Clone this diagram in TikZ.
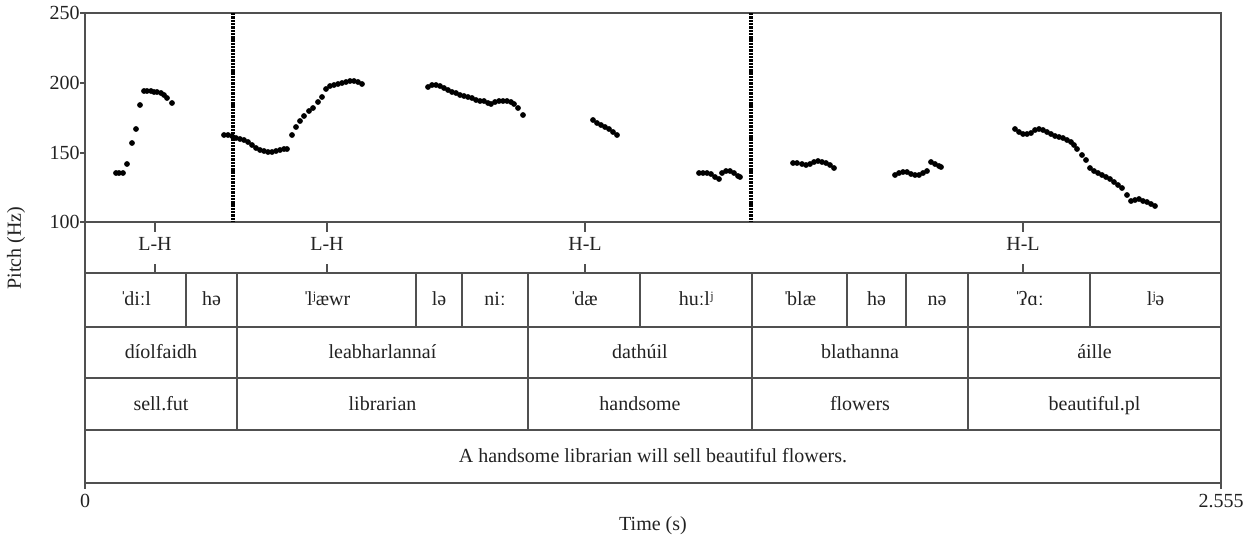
\documentclass[tikz,border=0pt]{standalone}
\usepackage{fontspec}
\setmainfont{Liberation Serif}
\definecolor{ln}{HTML}{505050}
\definecolor{tx}{HTML}{222222}
\newcommand{\st}{ˈ\kern-0.12em}
\begin{document}
\begin{tikzpicture}[x=0.5pt,y=-0.5pt,
  frame/.style={draw=ln,line width=0.8pt},
  grid/.style={draw=ln,line width=0.7pt},
  lbl/.style={text=tx,font=\fontsize{10}{12}\selectfont,inner sep=0pt},
  cell/.style={lbl,anchor=base},
  pt/.style={fill=black},
  bnd/.style={draw=black,line width=2pt,dash pattern=on 1.2pt off 0.45pt}]
\useasboundingbox (0,0) rectangle (1246,538);
% frame
\draw[frame] (85,13) rectangle (1221,483);
\foreach \yy in {222,273,327,378,430} \draw[grid] (85,\yy) -- (1221,\yy);
% y axis
\foreach \yy/\lab in {13/250,83/200,153/150,222/100} {
  \draw[grid] (80,\yy) -- (85,\yy);
  \node[lbl,anchor=east] (y\lab) at (80,\yy) {\lab};
}
\node[lbl,rotate=90] (ylab) at (16,248) {Pitch (Hz)};
% x axis
\draw[grid] (85,483) -- (85,489);
\draw[grid] (1221,483) -- (1221,489);
\node[cell] (x0) at (85,507) {0};
\node[cell] (x1) at (1221,507) {2.555};
\node[cell] (xlab) at (653,530) {Time (s)};
% boundaries in pitch panel
\draw[bnd] (233,13) -- (233,222);
\draw[bnd] (751,13) -- (751,222);
% pitch points
\foreach \px/\py in {116/173,119/173,123/173,127/164,132/143,136/129,140/105,144/91,147/91,151/91,154/92,157/92,161/93,164/95,167/98,172/103,
224/135,228/135,232/136,236/138,240/139,244/140,248/142,252/145,256/148,260/150,264/151,268/152,272/152,276/151,280/150,284/149,287/149,
292/135,296/127,300/121,304/116,309/111,313/108,318/102,322/97,326/89,330/86,334/85,338/84,342/83,346/82,350/81,354/81,358/82,362/84,
428/87,432/85,436/85,440/86,444/88,448/90,452/92,456/93,460/95,464/96,468/97,472/98,476/100,480/101,484/101,488/103,491/104,495/102,499/101,503/101,507/101,511/102,514/104,518/108,523/115,
593/120,597/123,601/125,605/127,609/129,613/132,617/135,
699/173,703/173,707/173,711/174,715/177,719/179,722/173,726/171,730/171,734/173,738/176,740/177,
793/163,797/163,802/164,806/165,810/164,814/162,818/161,822/162,826/163,830/165,834/168,
895/175,899/173,903/172,907/172,911/174,915/175,919/175,923/173,927/171,931/162,935/164,939/166,941/167,
1015/129,1019/132,1023/134,1027/134,1031/133,1035/130,1039/129,1043/130,1047/132,1051/134,1055/136,1059/137,1063/138,1067/140,1071/142,1074/145,1077/149,1082/155,1086/160,1090/168,1094/171,1098/173,1102/175,1106/177,1110/179,1114/182,1118/185,1122/188,1127/195,1131/201,1135/200,1139/199,1143/201,1147/202,1151/204,1155/206}
  \fill[pt] (\px,\py) circle (1.45pt);
% tone tier
\foreach \tx/\tl/\nm in {155/L-H/t1,327/L-H/t2,585/H-L/t3,1023/H-L/t4} {
  \draw[grid] (\tx,222) -- (\tx,232);
  \draw[grid] (\tx,264) -- (\tx,273);
  \node[cell] (\nm) at (\tx,250) {\tl};
}
% syllable tier
\foreach \bx in {186,237,416,462,528,640,752,847,906,968,1090} \draw[grid] (\bx,273) -- (\bx,327);
\node[cell] (s1) at (135.5,305) {\st diːl};
\node[cell] (s2) at (211.5,305) {hə};
\node[cell] (s3) at (326.5,305) {\st lʲæwr};
\node[cell] (s4) at (439,305) {lə};
\node[cell] (s5) at (495,305) {niː};
\node[cell] (s6) at (584,305) {\st dæ};
\node[cell] (s7) at (696,305) {huːlʲ};
\node[cell] (s8) at (799.5,305) {\st blæ};
\node[cell] (s9) at (876.5,305) {hə};
\node[cell] (s10) at (937,305) {nə};
\node[cell] (s11) at (1029,305) {\st ʔɑː};
\node[cell] (s12) at (1155.5,305) {lʲə};
% word and gloss tiers
\foreach \bx in {237,528,752,968} \draw[grid] (\bx,327) -- (\bx,430);
\node[cell] (w1) at (161,358) {díolfaidh};
\node[cell] (w2) at (382.5,358) {leabharlannaí};
\node[cell] (w3) at (640,358) {dathúil};
\node[cell] (w4) at (860,358) {blathanna};
\node[cell] (w5) at (1094.5,358) {áille};
\node[cell] (g1) at (161,410) {sell.fut};
\node[cell] (g2) at (382.5,410) {librarian};
\node[cell] (g3) at (640,410) {handsome};
\node[cell] (g4) at (860,410) {flowers};
\node[cell] (g5) at (1094.5,410) {beautiful.pl};
% translation
\node[cell] (tr) at (653,462) {A handsome librarian will sell beautiful flowers.};
\end{tikzpicture}
\end{document}
